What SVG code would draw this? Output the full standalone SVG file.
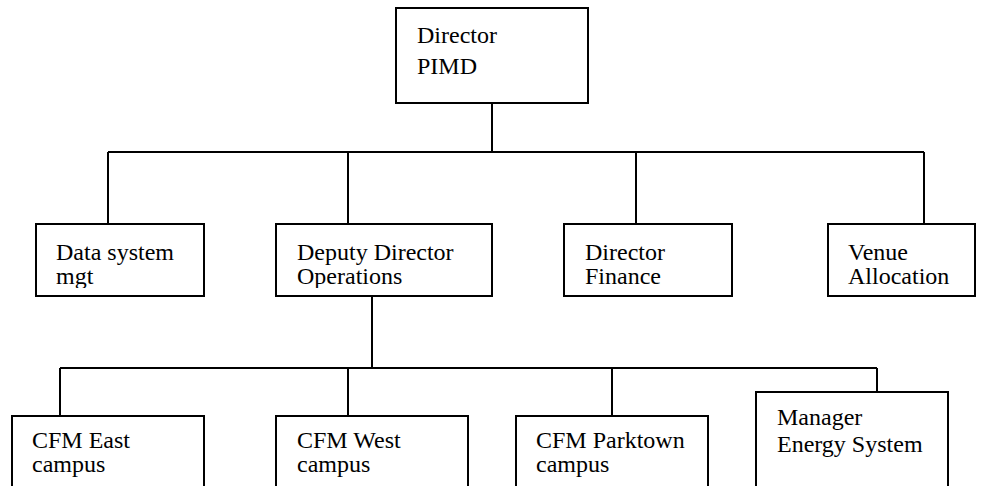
<svg xmlns="http://www.w3.org/2000/svg" width="984" height="486" viewBox="0 0 984 486">
  <style>
    .box { fill: #ffffff; stroke: #000000; stroke-width: 2; }
    .wire { fill: none; stroke: #000000; stroke-width: 2; }
    text { font-family: "Liberation Serif", "Times New Roman", serif; font-size: 24px; fill: #000000; }
  </style>
  <defs>
    <clipPath id="clip-data"><rect x="37" y="225" width="166" height="63"/></clipPath>
    <clipPath id="clip-deputy"><rect x="277" y="225" width="214" height="63"/></clipPath>
    <clipPath id="clip-finance"><rect x="565" y="225" width="166" height="63"/></clipPath>
    <clipPath id="clip-venue"><rect x="829" y="225" width="145" height="63"/></clipPath>
    <clipPath id="clip-east"><rect x="13" y="417" width="190" height="60"/></clipPath>
    <clipPath id="clip-west"><rect x="277" y="417" width="190" height="60"/></clipPath>
    <clipPath id="clip-park"><rect x="517" y="417" width="190" height="60"/></clipPath>
  </defs>

  <rect width="984" height="486" fill="#ffffff"/>

  <!-- connectors -->
  <g id="connectors">
    <path class="wire" d="M492 103 V152"/>
    <path class="wire" d="M108 152 H924"/>
    <path class="wire" d="M108 152 V224 M348 152 V224 M636 152 V224 M924 152 V224"/>
    <path class="wire" d="M372 296 V368"/>
    <path class="wire" d="M60 368 H877"/>
    <path class="wire" d="M60 368 V416 M348 368 V416 M612 368 V416 M877 368 V392"/>
  </g>

  <!-- top level -->
  <g id="director-pimd">
    <rect class="box" x="396" y="8" width="192" height="95"/>
    <text x="417" y="43">Director</text>
    <text x="417" y="74">PIMD</text>
  </g>

  <!-- second level -->
  <g id="data-system">
    <rect class="box" x="36" y="224" width="168" height="72"/>
    <g clip-path="url(#clip-data)">
      <text x="56" y="260">Data system</text>
      <text x="56" y="284">mgt</text>
    </g>
  </g>
  <g id="deputy-director">
    <rect class="box" x="276" y="224" width="216" height="72"/>
    <g clip-path="url(#clip-deputy)">
      <text x="297" y="260">Deputy Director</text>
      <text x="297" y="284">Operations</text>
    </g>
  </g>
  <g id="director-finance">
    <rect class="box" x="564" y="224" width="168" height="72"/>
    <g clip-path="url(#clip-finance)">
      <text x="585" y="260">Director</text>
      <text x="585" y="284">Finance</text>
    </g>
  </g>
  <g id="venue-allocation">
    <rect class="box" x="828" y="224" width="147" height="72"/>
    <g clip-path="url(#clip-venue)">
      <text x="848" y="260">Venue</text>
      <text x="848" y="284">Allocation</text>
    </g>
  </g>

  <!-- third level -->
  <g id="cfm-east">
    <rect class="box" x="12" y="416" width="192" height="90"/>
    <g clip-path="url(#clip-east)">
      <text x="32" y="448">CFM East</text>
      <text x="32" y="472">campus</text>
    </g>
  </g>
  <g id="cfm-west">
    <rect class="box" x="276" y="416" width="192" height="90"/>
    <g clip-path="url(#clip-west)">
      <text x="297" y="448">CFM West</text>
      <text x="297" y="472">campus</text>
    </g>
  </g>
  <g id="cfm-parktown">
    <rect class="box" x="516" y="416" width="192" height="90"/>
    <g clip-path="url(#clip-park)">
      <text x="536" y="448">CFM Parktown</text>
      <text x="536" y="472">campus</text>
    </g>
  </g>
  <g id="manager-energy">
    <rect class="box" x="756" y="392" width="192" height="114"/>
    <text x="777" y="425">Manager</text>
    <text x="777" y="452">Energy System</text>
  </g>
</svg>
